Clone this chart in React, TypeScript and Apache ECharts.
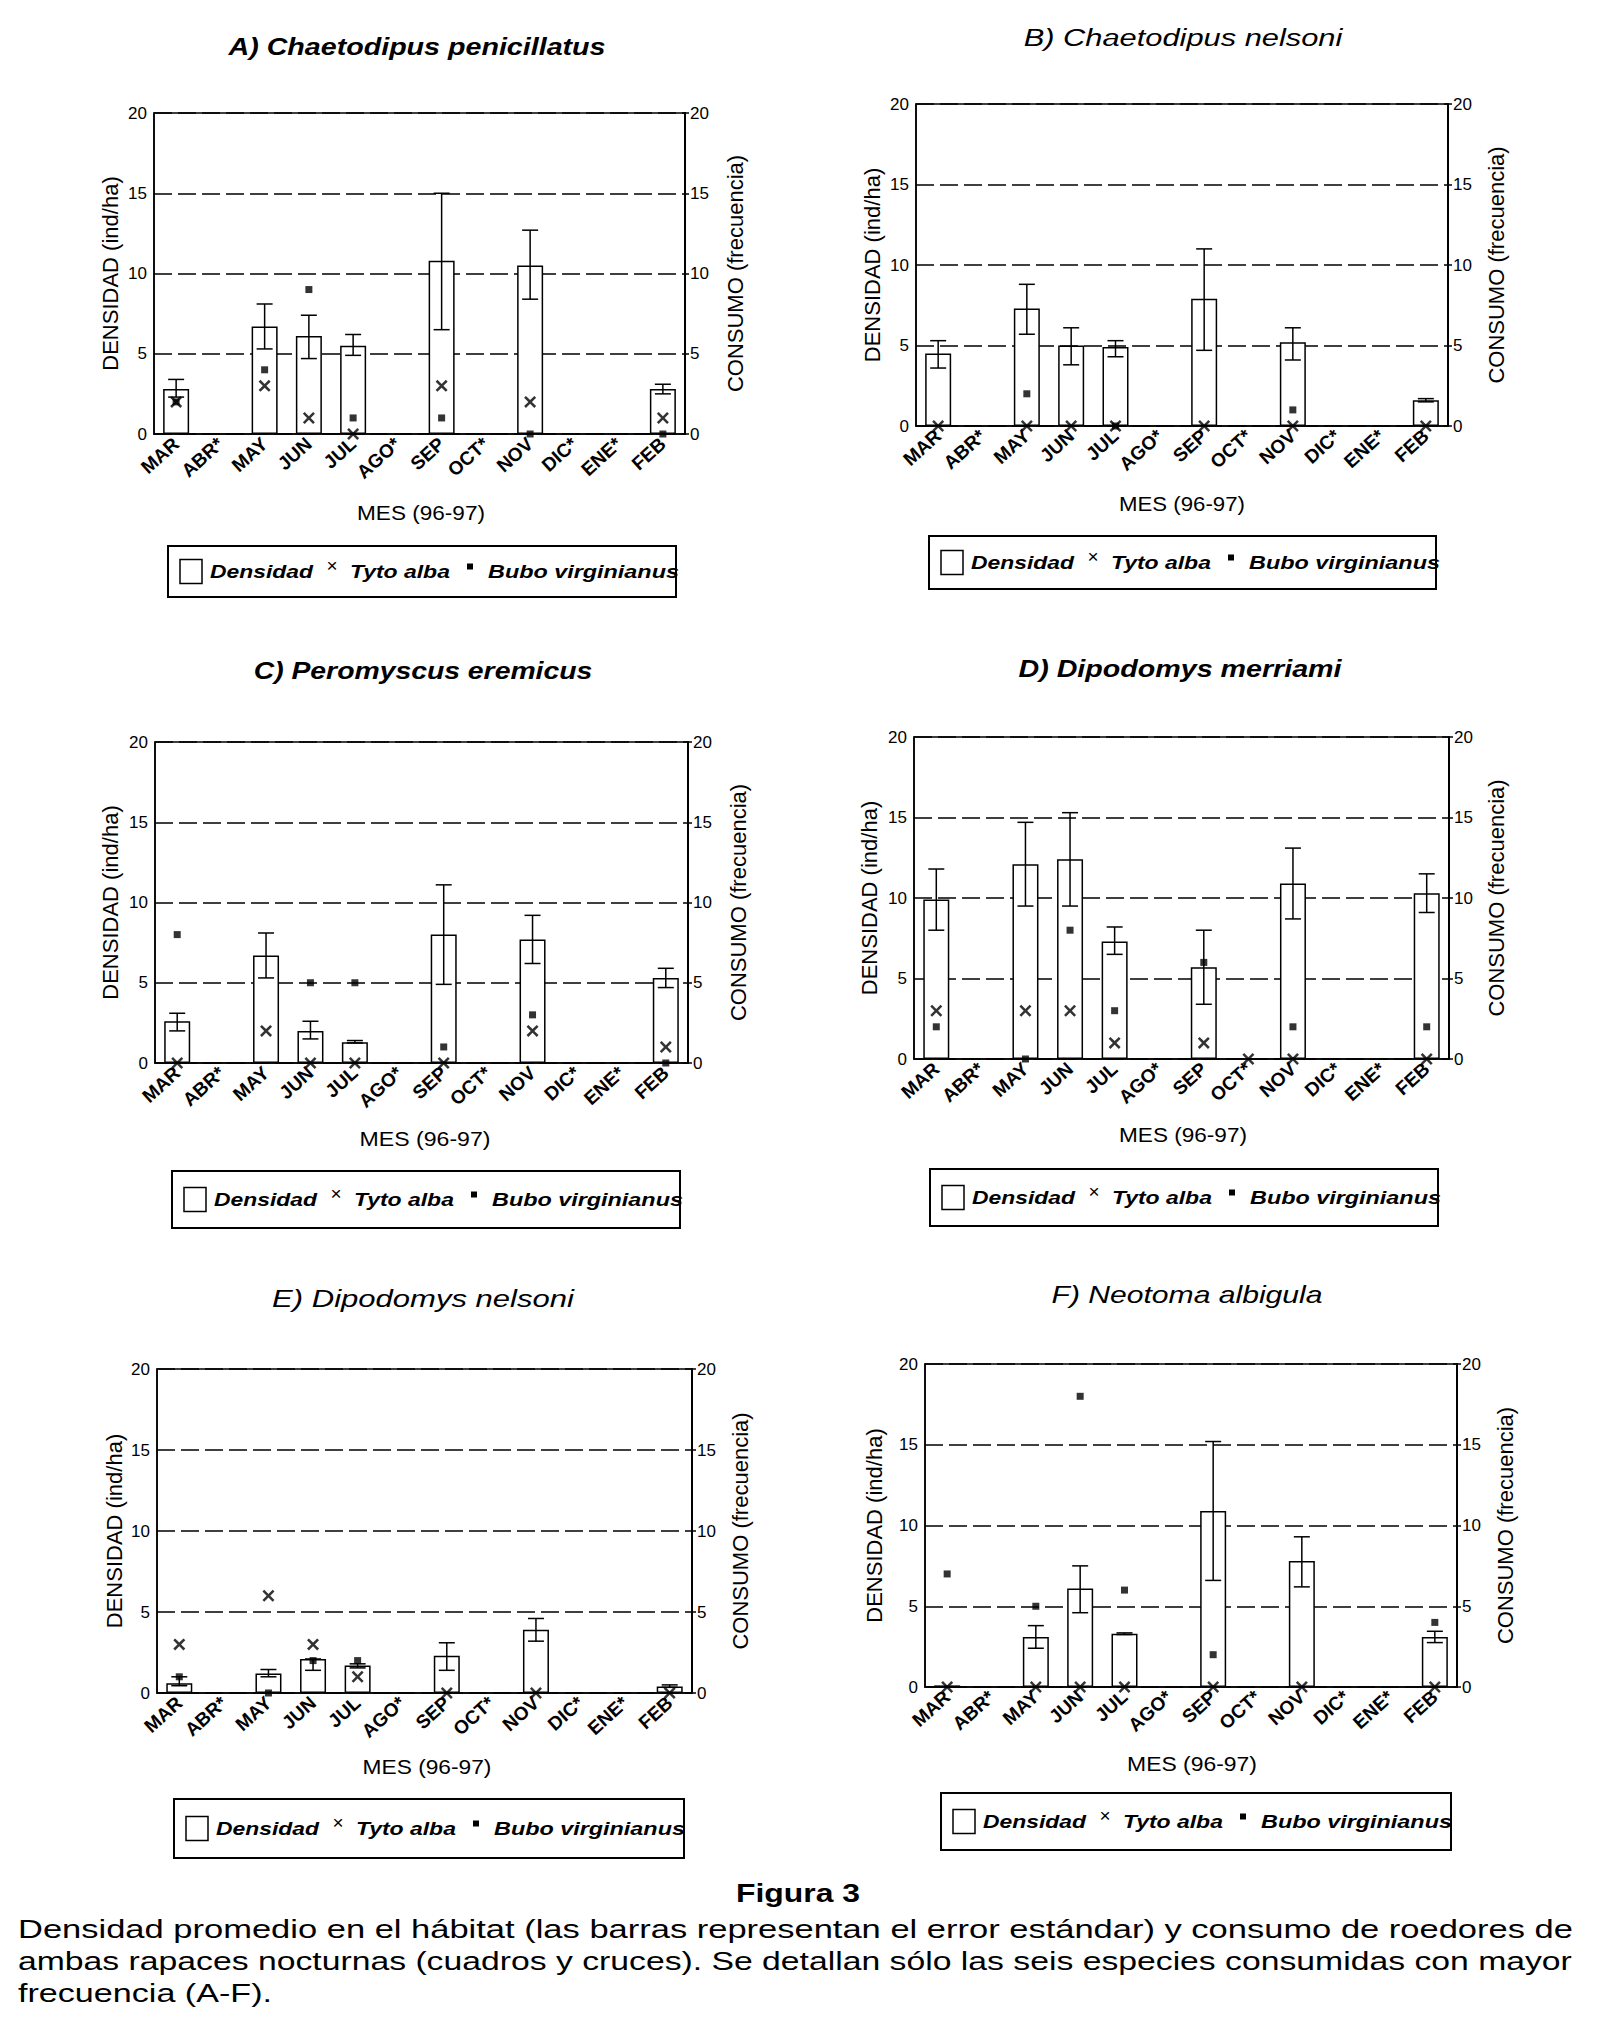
import React, { useEffect, useRef } from "react";
import * as echarts from "echarts";

// ---------- DATA ----------
const MONTHS = ["MAR", "ABR*", "MAY", "JUN", "JUL", "AGO*", "SEP", "OCT*", "NOV", "DIC*", "ENE*", "FEB"];
const Y_TICKS = [0, 5, 10, 15, 20];

// A) Chaetodipus penicillatus
const densA = [2.8, null, 6.7, 6.1, 5.5, null, 10.8, null, 10.5, null, null, 2.8];
const seLoA = [2.3, null, 5.3, 4.7, 4.9, null, 6.5, null, 8.4, null, null, 2.5];
const seHiA = [3.4, null, 8.1, 7.4, 6.2, null, 15.0, null, 12.7, null, null, 3.1];
const tytoA = [2, null, 3, 1, 0, null, 3, null, 2, null, null, 1];
const buboA = [2, null, 4, 9, 1, null, 1, null, 0, null, null, 0];

// B) Chaetodipus nelsoni
const densB = [4.5, null, 7.3, 5.0, 4.9, null, 7.9, null, 5.2, null, null, 1.6];
const seLoB = [3.6, null, 5.7, 3.8, 4.3, null, 4.7, null, 4.1, null, null, 1.5];
const seHiB = [5.3, null, 8.8, 6.1, 5.3, null, 11.0, null, 6.1, null, null, 1.7];
const tytoB = [0, null, 0, 0, 0, null, 0, null, 0, null, null, 0];
const buboB = [null, null, 2, null, 0, null, null, null, 1, null, null, null];

// C) Peromyscus eremicus
const densC = [2.6, null, 6.7, 2.0, 1.3, null, 8.0, null, 7.7, null, null, 5.3];
const seLoC = [2.0, null, 5.3, 1.5, 1.25, null, 4.9, null, 6.2, null, null, 4.7];
const seHiC = [3.1, null, 8.1, 2.6, 1.4, null, 11.1, null, 9.2, null, null, 5.9];
const tytoC = [0, null, 2, 0, 0, null, 0, null, 2, null, null, 1];
const buboC = [8, null, null, 5, 5, null, 1, null, 3, null, null, 0];

// D) Dipodomys merriami
const densD = [9.9, null, 12.1, 12.4, 7.3, null, 5.7, null, 10.9, null, null, 10.3];
const seLoD = [8.0, null, 9.5, 9.5, 6.5, null, 3.4, null, 8.7, null, null, 9.1];
const seHiD = [11.8, null, 14.7, 15.3, 8.2, null, 8.0, null, 13.1, null, null, 11.5];
const tytoD = [3, null, 3, 3, 1, null, 1, 0, 0, null, null, 0];
const buboD = [2, null, 0, 8, 3, null, 6, null, 2, null, null, 2];

// E) Dipodomys nelsoni
const densE = [0.6, null, 1.2, 2.1, 1.7, null, 2.3, null, 3.9, null, null, 0.4];
const seLoE = [0.45, null, 1.0, 1.4, 1.55, null, 1.4, null, 3.2, null, null, 0.35];
const seHiE = [1.0, null, 1.45, 2.1, 1.8, null, 3.1, null, 4.6, null, null, 0.5];
const tytoE = [3, null, 6, 3, 1, null, 0, null, 0, null, null, 0];
const buboE = [1, null, 0, 2, 2, null, null, null, null, null, null, null];

// F) Neotoma albigula
const densF = [0.1, null, 3.1, 6.1, 3.3, null, 10.9, null, 7.8, null, null, 3.1];
const seLoF = [null, null, 2.4, 4.6, 3.25, null, 6.6, null, 6.2, null, null, 2.75];
const seHiF = [null, null, 3.8, 7.5, 3.35, null, 15.2, null, 9.3, null, null, 3.45];
const tytoF = [0, null, 0, 0, 0, null, 0, null, 0, null, null, 0];
const buboF = [7, null, 5, 18, 6, null, 2, null, null, null, null, 4];

const TITLES = [
  "A) Chaetodipus penicillatus",
  "B) Chaetodipus nelsoni",
  "C) Peromyscus eremicus",
  "D) Dipodomys merriami",
  "E) Dipodomys nelsoni",
  "F) Neotoma albigula",
];
const TITLE_BOLD = [true, false, true, true, false, false];

const Y_LEFT_NAME = "DENSIDAD (ind/ha)";
const Y_RIGHT_NAME = "CONSUMO (frecuencia)";
const X_NAME = "MES (96-97)";
const LEG_DENS = "Densidad";
const LEG_TYTO = "Tyto alba";
const LEG_BUBO = "Bubo virginianus";
const FIG_TITLE = "Figura 3";
const CAPTION = [
  "Densidad promedio en el hábitat (las barras representan el error estándar) y consumo de roedores de",
  "ambas rapaces nocturnas (cuadros y cruces). Se detallan sólo las seis especies consumidas con mayor",
  "frecuencia (A-F).",
];

const PANEL_DATA = [
  { dens: densA, lo: seLoA, hi: seHiA, tyto: tytoA, bubo: buboA },
  { dens: densB, lo: seLoB, hi: seHiB, tyto: tytoB, bubo: buboB },
  { dens: densC, lo: seLoC, hi: seHiC, tyto: tytoC, bubo: buboC },
  { dens: densD, lo: seLoD, hi: seHiD, tyto: tytoD, bubo: buboD },
  { dens: densE, lo: seLoE, hi: seHiE, tyto: tytoE, bubo: buboE },
  { dens: densF, lo: seLoF, hi: seHiF, tyto: tytoF, bubo: buboF },
];

// ---------- LAYOUT (pixels) ----------
const LAYOUT = [
  { grid: [154, 113, 531, 321], lName: 110, rName: 735, title: [417, 47, 377], mes: [421, 513, 128], legend: [168, 546, 508, 51] },
  { grid: [916, 104, 532, 322], lName: 872, rName: 1496, title: [1183, 38, 319], mes: [1182, 504, 126], legend: [929, 536, 507, 53] },
  { grid: [155, 742, 533, 321], lName: 110, rName: 738, title: [423, 671, 339], mes: [425, 1139, 131], legend: [172, 1171, 508, 57] },
  { grid: [914, 737, 535, 322], lName: 869, rName: 1496, title: [1180, 669, 323], mes: [1183, 1135, 128], legend: [930, 1169, 508, 57] },
  { grid: [157, 1369, 535, 324], lName: 114, rName: 740, title: [423, 1299, 302], mes: [427, 1767, 129], legend: [174, 1799, 510, 59] },
  { grid: [925, 1364, 532, 323], lName: 874, rName: 1505, title: [1187, 1295, 271], mes: [1192, 1764, 130], legend: [941, 1793, 510, 57] },
];

const FONT = "'Liberation Sans', Arial, Helvetica, sans-serif";
const X_SYMBOL = "path://M0,1.5 L1.5,0 L5,3.5 L8.5,0 L10,1.5 L6.5,5 L10,8.5 L8.5,10 L5,6.5 L1.5,10 L0,8.5 L3.5,5 Z";

let measureCtx: CanvasRenderingContext2D | null = null;
function measure(text: string, size: number, weight = "normal", style = "normal"): number {
  if (!measureCtx) measureCtx = document.createElement("canvas").getContext("2d");
  if (!measureCtx) return text.length * size * 0.55;
  measureCtx.font = `${style} ${weight} ${size}px ${FONT}`;
  return measureCtx.measureText(text).width;
}

function fitText(text: string, x: number, y: number, size: number, targetW: number, opts: any = {}) {
  const weight = opts.weight || "normal";
  const fstyle = opts.fontStyle || "normal";
  const w = measure(text, size, weight, fstyle);
  const s = targetW / w;
  return {
    type: "text",
    x,
    y,
    scaleX: s,
    z: 100,
    style: {
      text,
      fontSize: size,
      fontWeight: weight,
      fontStyle: fstyle,
      fontFamily: FONT,
      fill: "#000",
      align: opts.align || "center",
      verticalAlign: "middle",
    },
  };
}

function buildOption() {
  const grid: any[] = [];
  const xAxis: any[] = [];
  const yAxis: any[] = [];
  const series: any[] = [];
  const elements: any[] = [];

  LAYOUT.forEach((L, i) => {
    const [gl, gt, gw, gh] = L.grid;
    grid.push({ left: gl, top: gt, width: gw, height: gh, show: true, borderColor: "#000", borderWidth: 1.5, backgroundColor: "transparent" });
    xAxis.push({
      type: "category",
      gridIndex: i,
      data: MONTHS,
      boundaryGap: true,
      axisLine: { show: true, lineStyle: { color: "#000", width: 1.5 } },
      axisTick: { show: false },
      axisLabel: { interval: 0, rotate: 42, margin: 7, fontSize: 19, fontWeight: "bold", color: "#000", fontFamily: FONT },
      splitLine: { show: false },
    });
    yAxis.push({
      type: "value",
      gridIndex: i,
      min: Y_TICKS[0],
      max: Y_TICKS[Y_TICKS.length - 1],
      interval: 5,
      position: "left",
      axisLine: { show: true, lineStyle: { color: "#000", width: 1.5 } },
      axisTick: { show: false },
      axisLabel: { fontSize: 17, color: "#000", margin: 7, fontFamily: FONT },
      splitLine: { show: true, lineStyle: { color: "#000", width: 1.5, type: [18, 6] } },
    });
    yAxis.push({
      type: "value",
      gridIndex: i,
      min: Y_TICKS[0],
      max: Y_TICKS[Y_TICKS.length - 1],
      interval: 5,
      position: "right",
      axisLine: { show: true, lineStyle: { color: "#000", width: 2 } },
      axisTick: { show: true, length: 4, lineStyle: { color: "#000", width: 1.5 } },
      axisLabel: { fontSize: 17, color: "#000", margin: 5, fontFamily: FONT },
      splitLine: { show: false },
    });

    const P = PANEL_DATA[i];
    series.push({
      type: "bar",
      name: LEG_DENS,
      xAxisIndex: i,
      yAxisIndex: 2 * i,
      data: P.dens,
      barWidth: 26,
      itemStyle: { color: "#fff", borderColor: "#000", borderWidth: 1.5 },
      z: 2,
    });
    const errData = P.lo
      .map((lo, k) => (lo == null || P.hi[k] == null ? null : [k, lo, P.hi[k]]))
      .filter((d) => d != null);
    series.push({
      type: "custom",
      xAxisIndex: i,
      yAxisIndex: 2 * i,
      data: errData,
      encode: { x: 0, y: [1, 2] },
      clip: false,
      z: 3,
      renderItem: (params: any, api: any) => {
        const x = api.value(0);
        const pLo = api.coord([x, api.value(1)]);
        const pHi = api.coord([x, api.value(2)]);
        const hw = 8;
        const st = { stroke: "#000", lineWidth: 1.5 };
        return {
          type: "group",
          children: [
            { type: "line", shape: { x1: pLo[0], y1: pLo[1], x2: pHi[0], y2: pHi[1] }, style: st },
            { type: "line", shape: { x1: pLo[0] - hw, y1: pLo[1], x2: pLo[0] + hw, y2: pLo[1] }, style: st },
            { type: "line", shape: { x1: pHi[0] - hw, y1: pHi[1], x2: pHi[0] + hw, y2: pHi[1] }, style: st },
          ],
        };
      },
    });
    series.push({
      type: "scatter",
      name: LEG_TYTO,
      xAxisIndex: i,
      yAxisIndex: 2 * i + 1,
      data: P.tyto.map((v, k) => (v == null ? null : [k, v])).filter((d) => d != null),
      symbol: X_SYMBOL,
      symbolSize: 12,
      itemStyle: { color: "#000" },
      clip: false,
      z: 5,
    });
    series.push({
      type: "scatter",
      name: LEG_BUBO,
      xAxisIndex: i,
      yAxisIndex: 2 * i + 1,
      data: P.bubo.map((v, k) => (v == null ? null : [k, v])).filter((d) => d != null),
      symbol: "rect",
      symbolSize: 7,
      itemStyle: { color: "#000" },
      clip: false,
      z: 6,
    });

    // title
    elements.push(
      fitText(TITLES[i], L.title[0], L.title[1], 23, L.title[2], {
        weight: TITLE_BOLD[i] ? "bold" : "normal",
        fontStyle: "italic",
      })
    );
    // axis names
    const cy = gt + gh / 2;
    elements.push({
      type: "text",
      x: L.lName,
      y: cy,
      rotation: Math.PI / 2,
      style: { text: Y_LEFT_NAME, fontSize: 22, fontFamily: FONT, fill: "#000", align: "center", verticalAlign: "middle" },
    });
    elements.push({
      type: "text",
      x: L.rName,
      y: cy,
      rotation: Math.PI / 2,
      style: { text: Y_RIGHT_NAME, fontSize: 22, fontFamily: FONT, fill: "#000", align: "center", verticalAlign: "middle" },
    });
    // x name
    elements.push(fitText(X_NAME, L.mes[0], L.mes[1], 21, L.mes[2]));

    // legend
    const [lx, ly, lw, lh] = L.legend;
    const lcy = ly + lh / 2;
    elements.push({
      type: "rect",
      shape: { x: lx, y: ly, width: lw, height: lh },
      style: { fill: "none", stroke: "#000", lineWidth: 2 },
    });
    elements.push({
      type: "rect",
      shape: { x: lx + 12, y: lcy - 12, width: 22, height: 24 },
      style: { fill: "#fff", stroke: "#000", lineWidth: 1.5 },
    });
    elements.push(fitText(LEG_DENS, lx + 42, lcy, 19, 103, { weight: "bold", fontStyle: "italic", align: "left" }));
    elements.push({
      type: "text",
      x: lx + 164,
      y: lcy - 6,
      style: { text: "×", fontSize: 19, fontFamily: FONT, fill: "#000", align: "center", verticalAlign: "middle" },
    });
    elements.push(fitText(LEG_TYTO, lx + 182, lcy, 19, 100, { weight: "bold", fontStyle: "italic", align: "left" }));
    elements.push({
      type: "rect",
      shape: { x: lx + 299, y: lcy - 8, width: 6, height: 6 },
      style: { fill: "#000" },
    });
    elements.push(fitText(LEG_BUBO, lx + 320, lcy, 19, 191, { weight: "bold", fontStyle: "italic", align: "left" }));
  });

  // figure caption
  elements.push(fitText(FIG_TITLE, 798, 1893, 25.5, 124, { weight: "bold" }));
  const lineYs = [1929, 1961, 1993];
  const s1 = 1555 / measure(CAPTION[0], 25.5);
  const s2 = 1555 / measure(CAPTION[1], 25.5);
  elements.push(fitText(CAPTION[0], 18, lineYs[0], 25.5, 1555, { align: "left" }));
  elements.push(fitText(CAPTION[1], 18, lineYs[1], 25.5, 1555, { align: "left" }));
  elements.push(
    fitText(CAPTION[2], 18, lineYs[2], 25.5, measure(CAPTION[2], 25.5) * ((s1 + s2) / 2), { align: "left" })
  );

  return {
    animation: false,
    backgroundColor: "#fff",
    textStyle: { fontFamily: FONT },
    grid,
    xAxis,
    yAxis,
    series,
    graphic: { elements },
  };
}

export default function App() {
  const ref = useRef<HTMLDivElement>(null);
  useEffect(() => {
    if (!ref.current) return;
    const chart = echarts.init(ref.current, undefined, { renderer: "svg" });
    chart.setOption(buildOption() as any);
    return () => chart.dispose();
  }, []);
  return (
    <div
      ref={ref}
      style={{ position: "absolute", left: 0, top: 0, width: 1600, height: 2044, background: "#fff" }}
    />
  );
}
